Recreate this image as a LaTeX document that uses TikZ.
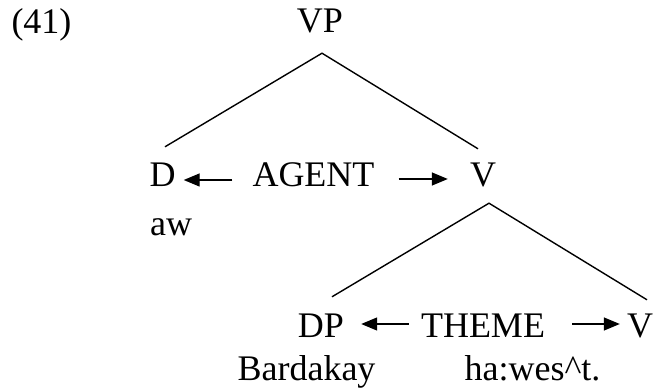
\documentclass[tikz,border=0pt]{standalone}
\usepackage{fontspec}
\setmainfont{Liberation Serif}
\usetikzlibrary{arrows.meta,calc}

\begin{document}
\begin{tikzpicture}[x=1pt, y=-1pt,
  every node/.style={font=\fontsize{36}{43}\selectfont, inner sep=0pt,
    text height=24pt, text depth=12pt, anchor=base},
  branch/.style={line width=1.4pt},
  role/.style={line width=1.4pt, -{Triangle[length=16pt, width=13pt]}}]
  \useasboundingbox (0,0) rectangle (657,390);

  \node (ex) at (41.5,34) {(41)};
  \node (vp) at (320,33) {VP};

  \node (d) at (162.5,187) {D};
  \node (agent) at (313.5,187) {AGENT};
  \node (vmid) at (483,187) {V};
  \node[anchor=base west] (aw) at (150,236) {aw};

  \node (dp) at (321,338) {DP};
  \node (theme) at (483,338) {THEME};
  \node (vlow) at (640,338) {V};
  \node (bard) at (306.5,381) {Bardakay};
  \node (hawes) at (532.5,381) {ha:wes\^{}t.};

  % tree
  \draw[branch] ($(d.north)+(2.5,-16)$) -- ($(vp.south)+(2,8)$) -- ($(vmid.north)+(-5,-14)$);
  \draw[branch] ($(dp.north)+(11,-17)$) -- ($(vmid.south)+(6,4)$) -- ($(vlow.north)+(7,-14)$);

  % roles
  \draw[role] ($(agent.west)+(-20,-1)$) -- ($(d.east)+(8,-1)$);
  \draw[role] ($(agent.east)+(24,-2)$) -- ($(vmid.west)+(-22,-2)$);
  \draw[role] ($(theme.west)+(-12,-8)$) -- ($(dp.east)+(17,-8)$);
  \draw[role] ($(theme.east)+(27,-8)$) -- ($(vlow.west)+(-7,-8)$);
\end{tikzpicture}
\end{document}
